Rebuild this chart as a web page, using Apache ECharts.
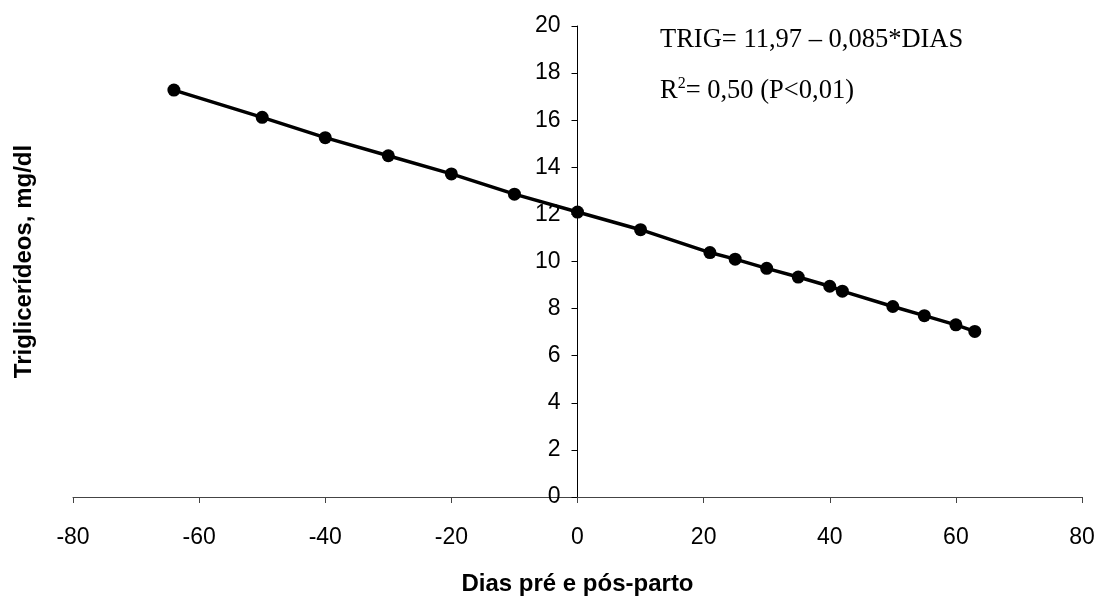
<!DOCTYPE html>
<html>
<head>
<meta charset="utf-8">
<script src="https://cdn.jsdelivr.net/npm/echarts@6/dist/echarts.min.js"></script>
<style>
html,body{margin:0;padding:0;background:#fff;}
#chart{width:1100px;height:601px;}
</style>
</head>
<body>
<div id="chart"></div>
<script>
// Data
const dias = [-64, -50, -40, -30, -20, -10, 0, 10, 21, 25, 30, 35, 40, 42, 50, 55, 60, 63];
const trig = [17.28, 16.12, 15.26, 14.49, 13.72, 12.86, 12.10, 11.35, 10.38, 10.10, 9.71, 9.34, 8.95, 8.74, 8.09, 7.70, 7.31, 7.03];
const xTitle = 'Dias pré e pós-parto';
const yTitle = 'Triglicerídeos, mg/dl';
const eqLine1 = 'TRIG= 11,97 – 0,085*DIAS';
const eqLine2a = 'R';
const eqLine2sup = '2';
const eqLine2b = '= 0,50 (P<0,01)';

const W = 1100, H = 601;
const gridLeft = 73, gridRight = 18;
const plotW = W - gridLeft - gridRight;
// y axis sits at x = 0, which is the middle of the symmetric -80..80 range
const yAxisShift = plotW / 2;

const chart = echarts.init(document.getElementById('chart'));
const points = dias.map((d, i) => [d, trig[i]]);

chart.setOption({
  backgroundColor: '#fff',
  animation: false,
  grid: { left: gridLeft, right: gridRight, top: 26, bottom: 97, containLabel: false },
  xAxis: {
    type: 'value', min: -80, max: 80, interval: 20,
    name: xTitle, nameLocation: 'middle', nameGap: 75,
    nameTextStyle: { fontFamily: 'Liberation Sans, Arial, sans-serif', fontWeight: 'bold', fontSize: 24, color: '#000' },
    axisLine: { onZero: true, lineStyle: { color: '#444', width: 1 } },
    axisTick: { show: true, inside: false, length: 6, lineStyle: { color: '#444' } },
    axisLabel: { margin: 29, fontFamily: 'Liberation Sans, Arial, sans-serif', fontSize: 23, color: '#000' },
    splitLine: { show: false }
  },
  yAxis: {
    type: 'value', min: 0, max: 20, interval: 2,
    position: 'left',
    offset: -yAxisShift,
    name: yTitle, nameLocation: 'middle', nameGap: yAxisShift + gridLeft - 24 - 12,
    nameTextStyle: { fontFamily: 'Liberation Sans, Arial, sans-serif', fontWeight: 'bold', fontSize: 24, color: '#000' },
    axisLine: { onZero: false, lineStyle: { color: '#000', width: 1 } },
    axisTick: { show: true, inside: false, length: 6, lineStyle: { color: '#000' } },
    axisLabel: { margin: 17, fontFamily: 'Liberation Sans, Arial, sans-serif', fontSize: 23, color: '#000' },
    splitLine: { show: false }
  },
  series: [{
    type: 'line',
    data: points,
    symbol: 'circle',
    symbolSize: 13,
    lineStyle: { color: '#000', width: 3.5 },
    itemStyle: { color: '#000' },
    z: 5
  }],
  graphic: [
    {
      type: 'text', left: 660, top: 27,
      style: { text: eqLine1, font: '26.5px "Liberation Serif", "Times New Roman", serif', fill: '#000' }
    },
    {
      type: 'text', left: 660, top: 76,
      style: {
        text: '{a|' + eqLine2a + '}{s|' + eqLine2sup + '}{a|' + eqLine2b + '}',
        rich: {
          a: { fontFamily: 'Liberation Serif, Times New Roman, serif', fontSize: 26.5, fill: '#000', verticalAlign: 'bottom' },
          s: { fontFamily: 'Liberation Serif, Times New Roman, serif', fontSize: 16, fill: '#000', verticalAlign: 'top', padding: [0, 0, 13, 0] }
        }
      }
    }
  ]
});
</script>
</body>
</html>
